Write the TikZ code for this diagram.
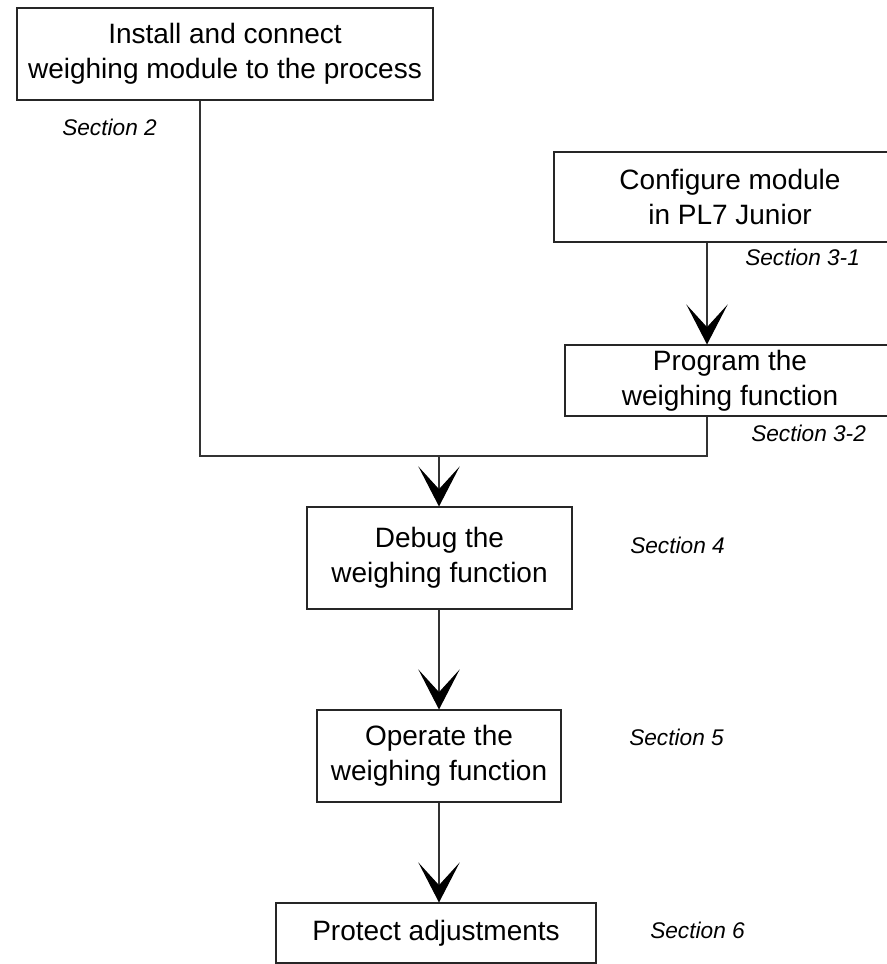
\documentclass[tikz,border=0pt]{standalone}
\usepackage{fontspec}
\setmainfont{Liberation Sans}
\usetikzlibrary{arrows.meta}
\begin{document}
\begin{tikzpicture}[x=0.75pt,y=-0.75pt,
  box/.style={draw=black!85, line width=0.8pt, inner sep=0pt, align=center,
    font=\fontsize{21pt}{26.5pt}\selectfont},
  sect/.style={anchor=west, inner sep=0pt, font=\fontsize{17pt}{20pt}\selectfont\itshape},
  conn/.style={draw=black!80, line width=0.8pt},
  arr/.style={conn, -{Stealth[length=30pt,width=31pt,inset=17pt,color=black,fill=black]}}]
\useasboundingbox (0,0) rectangle (886,964);
% boxes
\node[box, minimum width=416*0.75pt, minimum height=92*0.75pt] (install) at (225,54)
  {Install and connect\\weighing module to the process};
\node[box, minimum width=352*0.75pt, minimum height=90*0.75pt] (config) at (730,197)
  {Configure module\\in PL7 Junior};
\node[box, minimum width=330*0.75pt, minimum height=71*0.75pt] (program) at (730,380.5)
  {Program the\\weighing function};
\node[box, minimum width=265*0.75pt, minimum height=102*0.75pt] (debug) at (439.5,558)
  {Debug the\\weighing function};
\node[box, minimum width=244*0.75pt, minimum height=92*0.75pt] (operate) at (439,756)
  {Operate the\\weighing function};
\node[box, minimum width=320*0.75pt, minimum height=60*0.75pt] (protect) at (436,933)
  {Protect adjustments};
% section labels
\node[sect] (s2) at (62,127) {Section 2};
\node[sect] (s31) at (745,257) {Section 3-1};
\node[sect] (s32) at (751,433) {Section 3-2};
\node[sect] (s4) at (630,545) {Section 4};
\node[sect] (s5) at (629,737) {Section 5};
\node[sect] (s6) at (650,930) {Section 6};
% junction coordinates
\coordinate (j1) at (200,456);
\coordinate (j2) at (707,456);
\coordinate (j3) at (439,456);
% connectors
\draw[conn] (install.south -| j1) -- (j1) -- (j2) -- (program.south -| j2);
\draw[arr] (config.south -| j2) -- (program.north -| j2);
\draw[arr] (j3) -- (debug.north -| j3);
\draw[arr] (debug.south -| j3) -- (operate.north -| j3);
\draw[arr] (operate.south -| j3) -- (protect.north -| j3);
\end{tikzpicture}
\end{document}
